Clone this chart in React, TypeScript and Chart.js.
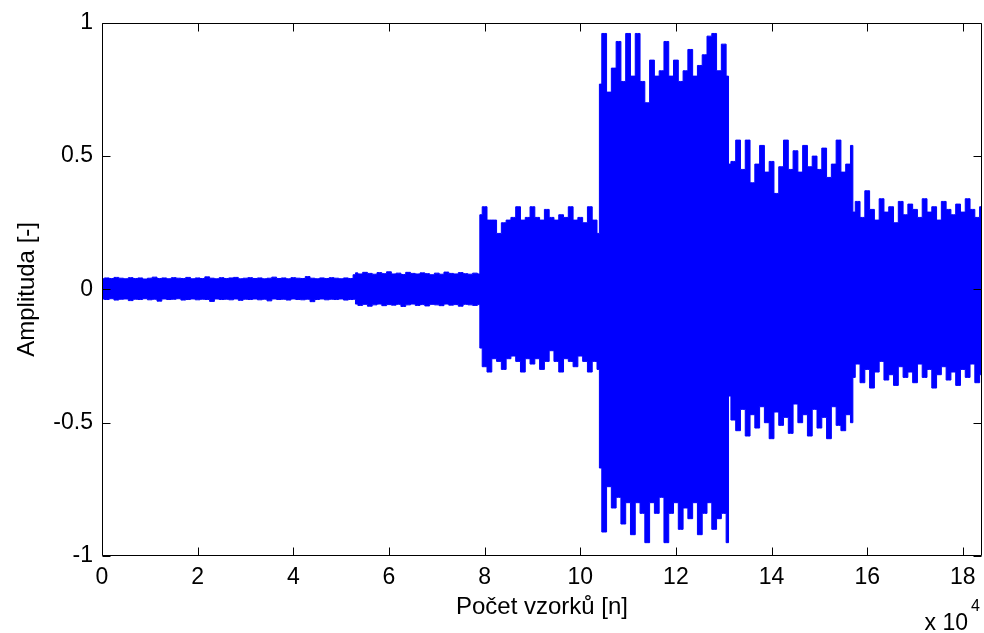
import React, { useEffect, useRef } from 'react';
import { Chart, registerables } from 'chart.js';

Chart.register(...registerables);

// Segment boundaries (sample index) of the recorded signal
const SEGMENT_BOUNDS = [0, 53000, 79000, 104000, 131000, 157000, 184000];

// Upper envelope (positive peaks) per segment
const UPPER_1 = [0.040, 0.043, 0.041, 0.045, 0.042, 0.040, 0.044, 0.041, 0.043, 0.039, 0.042, 0.046, 0.041, 0.043, 0.040, 0.044, 0.042, 0.041, 0.045, 0.040, 0.043, 0.041, 0.047, 0.042, 0.040, 0.044, 0.041, 0.043, 0.045, 0.040, 0.042, 0.044, 0.041, 0.043, 0.040, 0.042, 0.046, 0.041, 0.043, 0.040, 0.044, 0.042, 0.041, 0.048, 0.042, 0.040, 0.043, 0.041, 0.044, 0.042, 0.040, 0.043, 0.041, 0.055];
const UPPER_2 = [0.062, 0.058, 0.064, 0.060, 0.057, 0.063, 0.059, 0.066, 0.058, 0.061, 0.056, 0.064, 0.060, 0.058, 0.062, 0.059, 0.055, 0.061, 0.057, 0.065, 0.060, 0.058, 0.063, 0.059, 0.057, 0.061, 0.058];
const UPPER_3 = [0.28, 0.31, 0.26, 0.26, 0.21, 0.25, 0.26, 0.27, 0.31, 0.26, 0.27, 0.31, 0.27, 0.26, 0.30, 0.27, 0.26, 0.28, 0.27, 0.31, 0.26, 0.27, 0.25, 0.31, 0.26, 0.21];
const UPPER_4 = [0.77, 0.96, 0.74, 0.83, 0.93, 0.78, 0.96, 0.80, 0.96, 0.78, 0.70, 0.86, 0.80, 0.82, 0.93, 0.80, 0.86, 0.78, 0.82, 0.90, 0.80, 0.84, 0.88, 0.95, 0.96, 0.82, 0.92, 0.80];
const UPPER_5 = [0.47, 0.48, 0.56, 0.45, 0.56, 0.40, 0.47, 0.54, 0.44, 0.48, 0.36, 0.46, 0.56, 0.45, 0.52, 0.44, 0.54, 0.46, 0.50, 0.45, 0.53, 0.42, 0.47, 0.56, 0.44, 0.47, 0.54];
const UPPER_6 = [0.29, 0.33, 0.27, 0.37, 0.30, 0.26, 0.34, 0.29, 0.31, 0.25, 0.33, 0.28, 0.32, 0.30, 0.27, 0.34, 0.29, 0.31, 0.26, 0.33, 0.30, 0.28, 0.32, 0.29, 0.34, 0.30, 0.27, 0.31];

// Lower envelope (negative peaks) per segment
const LOWER_1 = [-0.036, -0.038, -0.035, -0.040, -0.037, -0.036, -0.042, -0.037, -0.038, -0.035, -0.039, -0.037, -0.044, -0.036, -0.038, -0.037, -0.035, -0.040, -0.038, -0.036, -0.039, -0.037, -0.038, -0.045, -0.036, -0.038, -0.037, -0.039, -0.036, -0.041, -0.037, -0.038, -0.036, -0.039, -0.037, -0.043, -0.036, -0.038, -0.037, -0.040, -0.036, -0.038, -0.039, -0.037, -0.046, -0.038, -0.036, -0.039, -0.037, -0.038, -0.036, -0.040, -0.038, -0.037];
const LOWER_2 = [-0.055, -0.060, -0.056, -0.063, -0.058, -0.055, -0.061, -0.057, -0.059, -0.056, -0.064, -0.058, -0.055, -0.060, -0.057, -0.062, -0.056, -0.058, -0.061, -0.055, -0.059, -0.057, -0.063, -0.056, -0.058, -0.060, -0.057];
const LOWER_3 = [-0.22, -0.29, -0.31, -0.26, -0.27, -0.30, -0.26, -0.25, -0.27, -0.31, -0.26, -0.28, -0.26, -0.30, -0.27, -0.23, -0.27, -0.31, -0.26, -0.27, -0.29, -0.25, -0.27, -0.31, -0.27, -0.30];
const LOWER_4 = [-0.67, -0.91, -0.74, -0.82, -0.78, -0.88, -0.80, -0.92, -0.80, -0.84, -0.95, -0.80, -0.84, -0.78, -0.95, -0.84, -0.80, -0.90, -0.82, -0.86, -0.80, -0.92, -0.84, -0.80, -0.90, -0.86, -0.84, -0.95];
const LOWER_5 = [-0.40, -0.49, -0.53, -0.45, -0.55, -0.47, -0.52, -0.44, -0.50, -0.56, -0.46, -0.51, -0.48, -0.54, -0.43, -0.50, -0.47, -0.55, -0.45, -0.52, -0.48, -0.56, -0.44, -0.51, -0.53, -0.47, -0.50];
const LOWER_6 = [-0.33, -0.28, -0.35, -0.30, -0.37, -0.31, -0.27, -0.34, -0.32, -0.36, -0.29, -0.33, -0.31, -0.35, -0.28, -0.33, -0.30, -0.37, -0.32, -0.29, -0.34, -0.31, -0.36, -0.30, -0.33, -0.28, -0.35, -0.32];

const UPPER_SEGMENTS = [UPPER_1, UPPER_2, UPPER_3, UPPER_4, UPPER_5, UPPER_6];
const LOWER_SEGMENTS = [LOWER_1, LOWER_2, LOWER_3, LOWER_4, LOWER_5, LOWER_6];

// Axis ticks
const X_TICKS = [0, 20000, 40000, 60000, 80000, 100000, 120000, 140000, 160000, 180000];
const Y_TICKS = [-1, -0.5, 0, 0.5, 1];
const X_MIN = 0;
const X_MAX = 184000;
const X_SCALE_DIVISOR = 10000;
const Y_MIN = -1;
const Y_MAX = 1;

const X_TITLE = 'Počet vzorků [n]';
const Y_TITLE = 'Amplituda [-]';
const X_EXP_BASE = 'x 10';
const X_EXP_POWER = '4';

const FONT_FAMILY = '"Liberation Sans", Arial, Helvetica, sans-serif';
const BLUE = '#0000ff';

function buildPoints(segments: number[][]) {
  const pts: { x: number; y: number }[] = [];
  segments.forEach((seg, s) => {
    const start = SEGMENT_BOUNDS[s];
    const end = SEGMENT_BOUNDS[s + 1];
    const n = seg.length;
    seg.forEach((v, i) => {
      pts.push({ x: start + (i * (end - start)) / (n - 1), y: v });
    });
  });
  return pts;
}

const framePlugin = {
  id: 'matlabFrame',
  afterDraw(chart: any) {
    const { ctx, chartArea, scales } = chart;
    const { left, right, top, bottom } = chartArea;
    const xs = scales.x;
    const ys = scales.y;
    const L = Math.round(left) + 0.5;
    const R = Math.round(right) - 0.5;
    const T = Math.round(top) + 0.5;
    const B = Math.round(bottom) - 0.5;
    const tickLen = 8;
    ctx.save();
    ctx.strokeStyle = '#000';
    ctx.lineWidth = 1;
    ctx.beginPath();
    ctx.rect(L, T, R - L, B - T);
    xs.ticks.forEach((t: any) => {
      const px = Math.round(xs.getPixelForValue(t.value)) + 0.5;
      ctx.moveTo(px, B);
      ctx.lineTo(px, B - tickLen);
      ctx.moveTo(px, T);
      ctx.lineTo(px, T + tickLen);
    });
    ys.ticks.forEach((t: any) => {
      const py = Math.round(ys.getPixelForValue(t.value)) + 0.5;
      ctx.moveTo(L, py);
      ctx.lineTo(L + tickLen, py);
      ctx.moveTo(R, py);
      ctx.lineTo(R - tickLen, py);
    });
    ctx.stroke();
    // exponent label of x axis
    ctx.fillStyle = '#000';
    ctx.textBaseline = 'alphabetic';
    ctx.textAlign = 'right';
    ctx.font = `23px ${FONT_FAMILY}`;
    ctx.fillText(X_EXP_BASE, right - 14, 630);
    ctx.textAlign = 'left';
    ctx.font = `16px ${FONT_FAMILY}`;
    ctx.fillText(X_EXP_POWER, right - 11, 611);
    ctx.restore();
  },
};

export default function App() {
  const canvasRef = useRef<HTMLCanvasElement | null>(null);

  useEffect(() => {
    const canvas = canvasRef.current;
    if (!canvas) return;
    const upper = buildPoints(UPPER_SEGMENTS);
    const lower = buildPoints(LOWER_SEGMENTS);
    const chart = new Chart(canvas, {
      type: 'line',
      data: {
        datasets: [
          {
            data: upper,
            borderColor: BLUE,
            backgroundColor: BLUE,
            borderWidth: 1,
            pointRadius: 0,
            tension: 0,
            stepped: 'middle',
            fill: '+1',
          },
          {
            data: lower,
            borderColor: BLUE,
            backgroundColor: BLUE,
            borderWidth: 1,
            pointRadius: 0,
            tension: 0,
            stepped: 'middle',
            fill: false,
          },
        ],
      },
      options: {
        responsive: false,
        animation: false,
        layout: { padding: { top: 21, right: 2, bottom: 0, left: 0 } },
        plugins: {
          legend: { display: false },
          tooltip: { enabled: false },
        },
        scales: {
          x: {
            type: 'linear',
            min: X_MIN,
            max: X_MAX,
            grid: { display: false, drawTicks: false },
            border: { display: false },
            afterBuildTicks: (scale: any) => {
              scale.ticks = X_TICKS.map((v) => ({ value: v }));
            },
            ticks: {
              padding: 8,
              color: '#000',
              font: { family: FONT_FAMILY, size: 23 },
              maxRotation: 0,
              minRotation: 0,
              autoSkip: false,
              callback: (v: any) => String(Number(v) / X_SCALE_DIVISOR),
            },
            title: {
              display: true,
              text: X_TITLE,
              color: '#000',
              font: { family: FONT_FAMILY, size: 24 },
              padding: { top: 0, bottom: 11 },
            },
            afterFit: (scale: any) => {
              scale.height = 77;
            },
          },
          y: {
            type: 'linear',
            min: Y_MIN,
            max: Y_MAX,
            grid: { display: false, drawTicks: false },
            border: { display: false },
            afterBuildTicks: (scale: any) => {
              scale.ticks = Y_TICKS.map((v) => ({ value: v }));
            },
            ticks: {
              padding: 9,
              color: '#000',
              autoSkip: false,
              font: { family: FONT_FAMILY, size: 23 },
              callback: (v: any) => String(Number(v)),
            },
            title: {
              display: true,
              text: Y_TITLE,
              color: '#000',
              font: { family: FONT_FAMILY, size: 24 },
              padding: { top: 13, bottom: 0 },
            },
            afterFit: (scale: any) => {
              scale.width = 102;
            },
          },
        },
      },
      plugins: [framePlugin],
    });
    return () => chart.destroy();
  }, []);

  return (
    <div style={{ position: 'fixed', left: 0, top: 0, width: 984, height: 633, background: '#fff' }}>
      <canvas ref={canvasRef} width={984} height={633} style={{ display: 'block' }} />
    </div>
  );
}
